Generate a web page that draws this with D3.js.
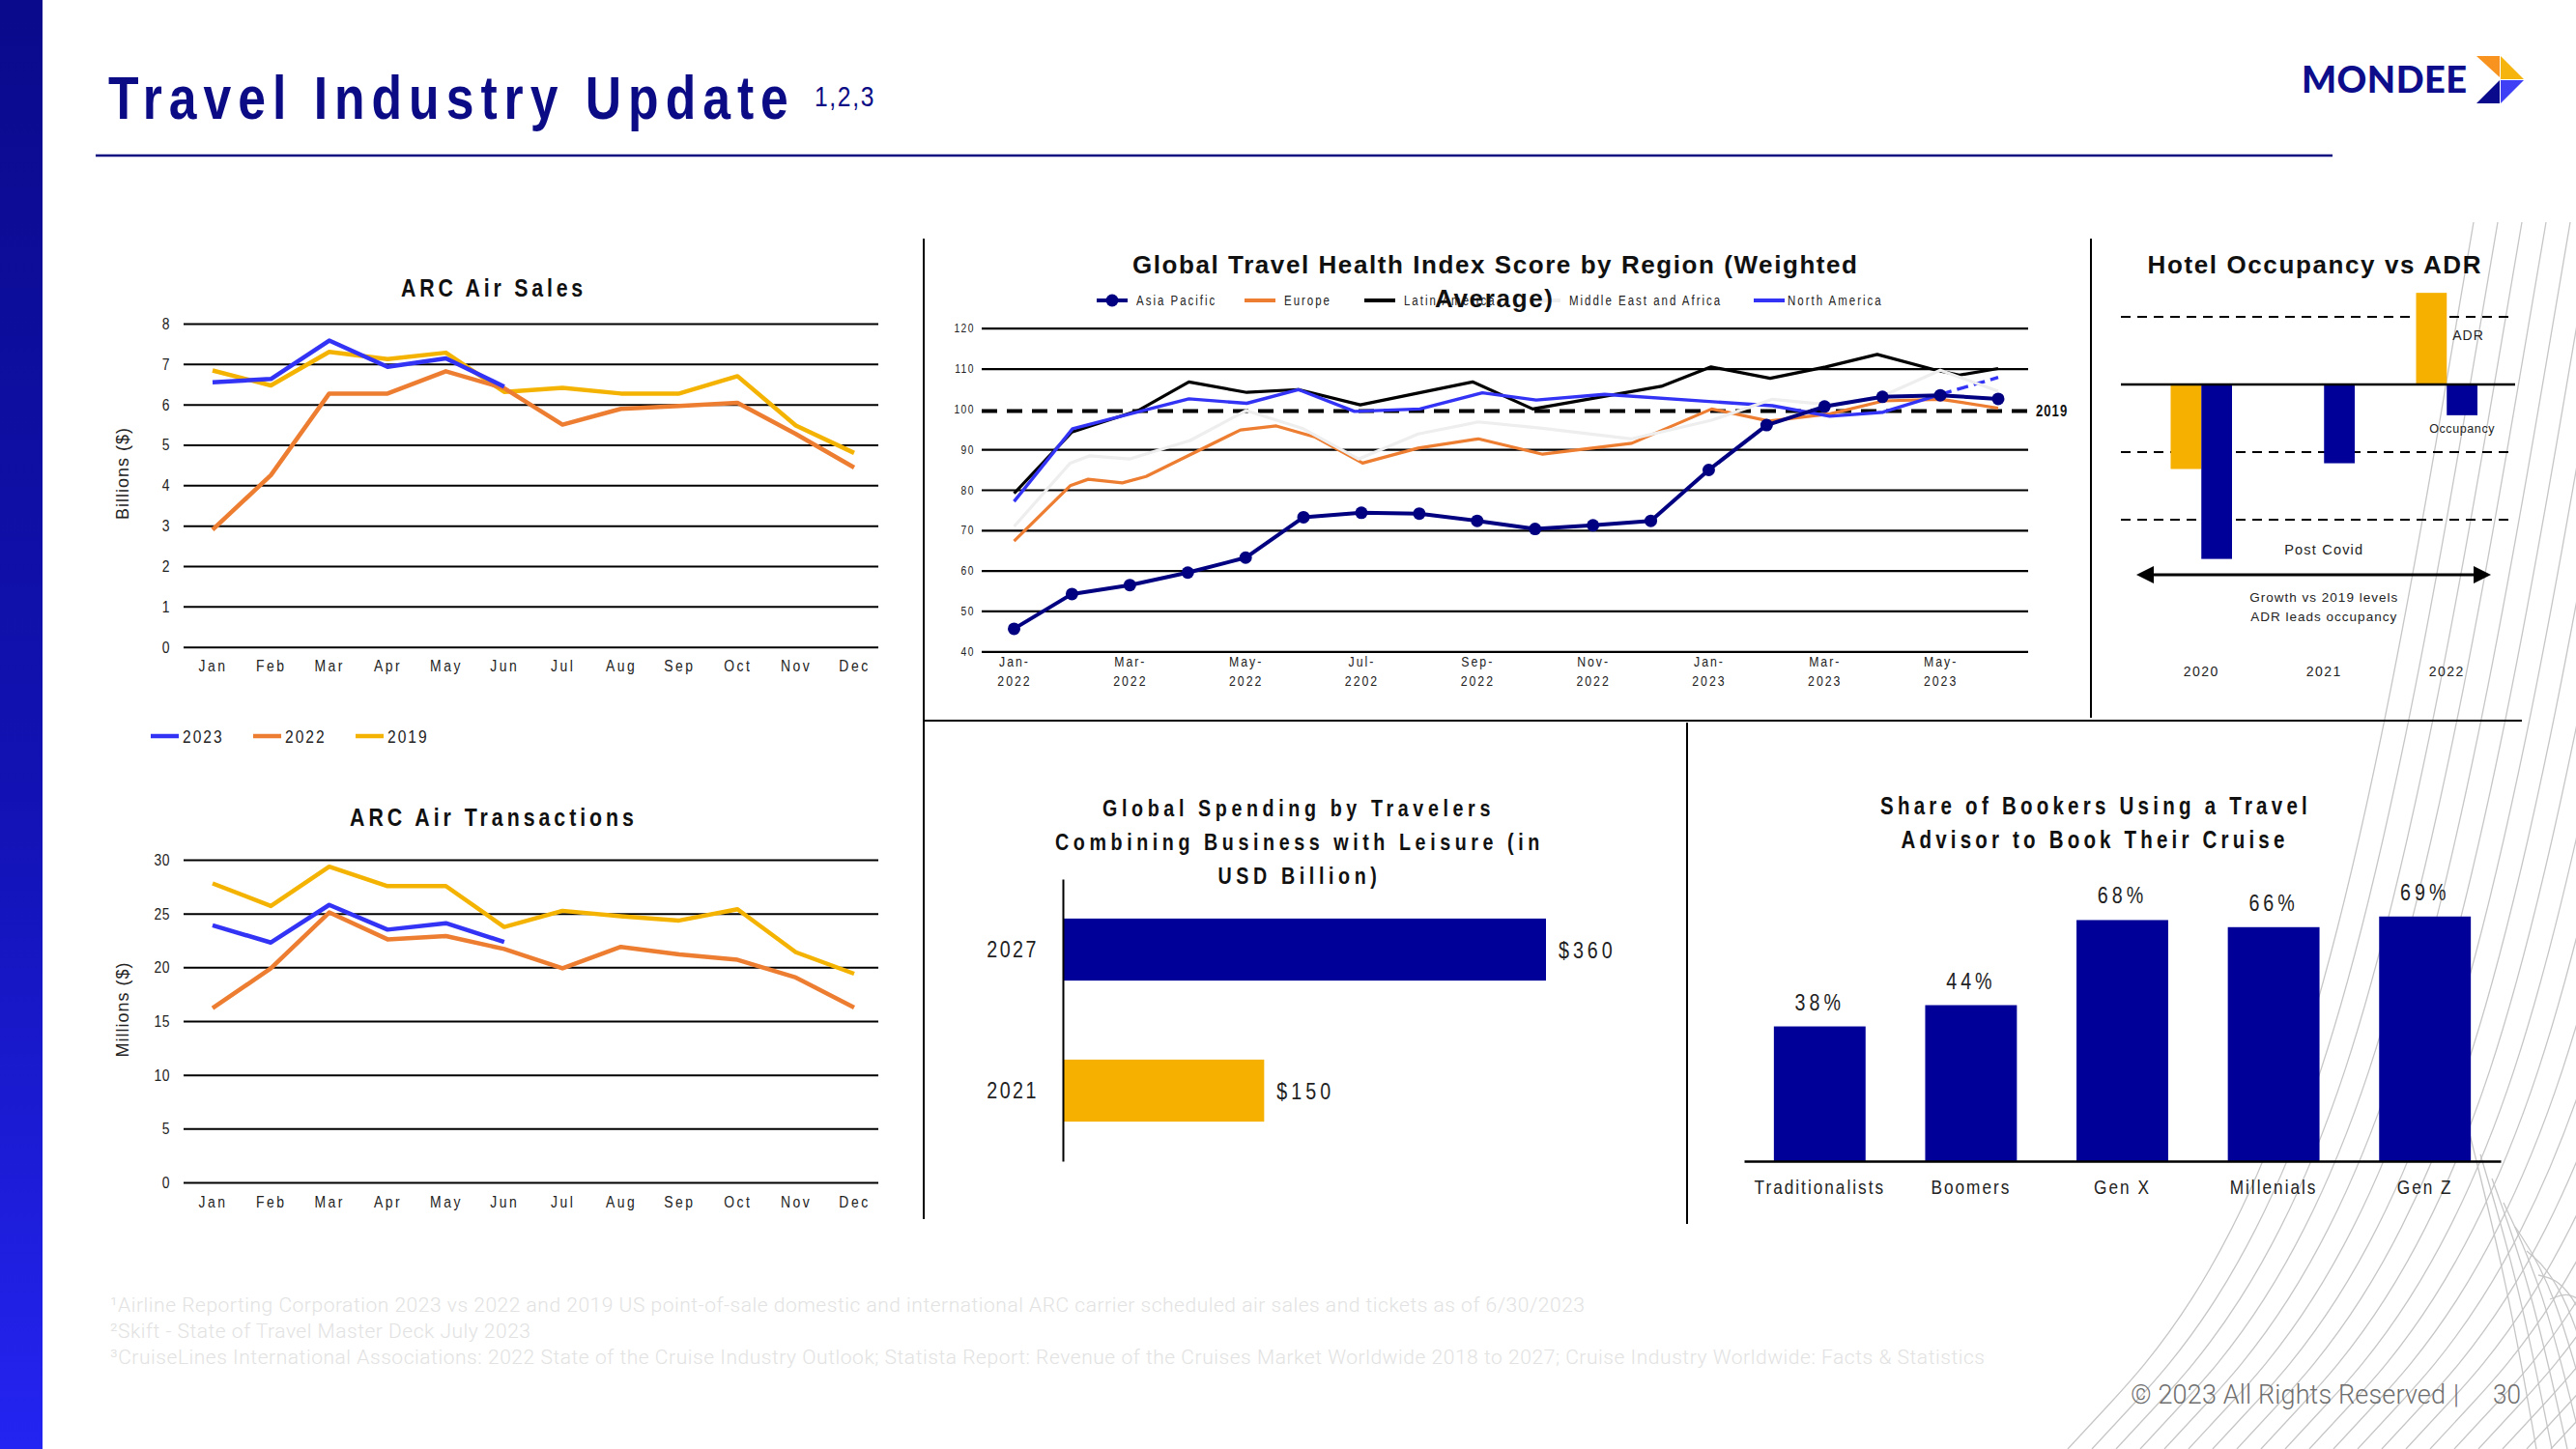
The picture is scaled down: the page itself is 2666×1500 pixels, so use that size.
<!DOCTYPE html>
<html>
<head>
<meta charset="utf-8">
<title>Travel Industry Update</title>
<script src="https://cdn.jsdelivr.net/npm/d3@7/dist/d3.min.js"></script>
<style>
  html, body { margin:0; padding:0; background:#ffffff; }
  svg { display:block; }
</style>
</head>
<body>
<svg id="slide" width="2666" height="1500"></svg>
<script>
// ================= DATA =================
const months = ["Jan","Feb","Mar","Apr","May","Jun","Jul","Aug","Sep","Oct","Nov","Dec"];
const arcYears = ["2023","2022","2019"];

const salesTicks = [0,1,2,3,4,5,6,7,8];
const sales2023 = [6.55,6.63,7.58,6.93,7.14,6.44];
const sales2022 = [2.9,4.25,6.27,6.27,6.82,6.4,5.5,5.89,5.96,6.04,5.27,4.44];
const sales2019 = [6.84,6.47,7.3,7.12,7.28,6.31,6.41,6.27,6.27,6.7,5.48,4.8];

const transTicks = [0,5,10,15,20,25,30];
const trans2023 = [23.9,22.3,25.8,23.5,24.1,22.35];
const trans2022 = [16.2,19.9,25.1,22.6,22.9,21.7,19.9,21.9,21.2,20.7,19.05,16.25];
const trans2019 = [27.8,25.7,29.35,27.55,27.55,23.75,25.25,24.75,24.35,25.4,21.4,19.4];

const gthiTicks = [40,50,60,70,80,90,100,110,120];
const gthiTickMonths = [0,2,4,6,8,10,12,14,16];
const gthiTickLabels = [["Jan-","2022"],["Mar-","2022"],["May-","2022"],["Jul-","2202"],["Sep-","2022"],["Nov-","2022"],["Jan-","2023"],["Mar-","2023"],["May-","2023"]];
const gthiRegions = ["Asia Pacific","Europe","Latin America","Middle East and Africa","North America"];
const asiaPacific = [45.6,54.2,56.4,59.5,63.2,73.2,74.3,74.1,72.3,70.3,71.2,72.3,84.9,96.0,100.6,103.0,103.4,102.5];
const europe = [[0,67.3],[0.97,81.0],[1.28,82.6],[1.87,81.7],[2.28,83.3],[3.91,94.8],[4.53,95.8],[5.19,93.1],[6.02,86.6],[6.98,90.3],[8.02,92.6],[9.13,88.8],[10.67,91.5],[12.05,100.0],[13.04,97.0],[14.1,98.8],[15.02,102.0],[16.01,102.4],[17,100.2]];
const latinAmerica = [[0,79.1],[1,94.3],[2.14,99.6],[3.02,106.7],[4.02,104.1],[4.91,104.8],[5.98,101.0],[7.92,106.7],[8.96,100.0],[11.18,105.6],[12.04,110.4],[13.06,107.6],[14.02,110.4],[14.91,113.5],[15.93,109.6],[16.33,108.4],[17,110.0]];
const middleEastAfrica = [[0,70.9],[0.97,86.6],[1.31,88.4],[1.99,87.6],[3.04,92.2],[4.01,99.6],[4.98,95.2],[5.95,87.6],[6.98,93.8],[8.02,96.8],[9.13,95.2],[10.67,92.6],[12.05,97.2],[13.1,102.4],[14.1,101.0],[15.0,103.2],[16.0,109.6],[17,104.4]];
const northAmerica = [[0,77.1],[1.01,95.1],[2.01,98.8],[3.02,102.5],[4.02,101.4],[4.91,104.8],[5.88,99.4],[7.01,100.0],[8.09,104.0],[9.02,102.2],[10.2,103.6],[13.1,100.8],[14.09,98.2],[15.01,99.2],[16.0,103.6],[17,107.8]];
const level2019 = 99.5;

const hotelYears = ["2020","2021","2022"];
const hotelMeasures = ["ADR","Occupancy"];
const hotelADR = [-25.0,0,27.1];
const hotelOcc = [-51.6,-23.3,-9.1];
const hotelRefLines = [20,-20,-40];

const spendYears = ["2027","2021"];
const spendValues = [360,150];

const cruiseGroups = ["Traditionalists","Boomers","Gen X","Millenials","Gen Z"];
const cruiseShare = [38,44,68,66,69];

const footnotes = [
  "\u00B9Airline Reporting Corporation 2023 vs 2022 and 2019 US point-of-sale domestic and international ARC carrier scheduled air sales and tickets as of 6/30/2023",
  "\u00B2Skift - State of Travel Master Deck July 2023",
  "\u00B3CruiseLines International Associations: 2022 State of the Cruise Industry Outlook; Statista Report: Revenue of the Cruises Market Worldwide 2018 to 2027; Cruise Industry Worldwide: Facts & Statistics"
];

// ================= STYLE =================
const SANS = "'Liberation Sans',Arial,Helvetica,sans-serif";
const ROBOTO = "Roboto,'Liberation Sans',sans-serif";
const NAVY = "#000099", YELLOW = "#f5b000", ORANGE = "#ed7d31", BLUE = "#3333f5", DARKNAVY = "#000080";
const TITLE_NAVY = "#0b0b85";

const svg = d3.select("#slide");

// detect a real narrow face; otherwise emulate it by horizontal compression
function probe(fam) {
  const t = svg.append("text").attr("font-family", fam).attr("font-size", 40).text("Travel Industry Update");
  const w = t.node().getComputedTextLength(); t.remove(); return w;
}
const hasNarrow = Math.abs(probe("'Liberation Sans Narrow',monospace") - probe("'Liberation Sans Narrow',serif")) < 0.5;
const NF = hasNarrow ? "'Liberation Sans Narrow',sans-serif" : SANS;
const NS = hasNarrow ? 1 : 0.82;

function narrowize(t, ls, target) {
  const n = Math.max(1, (t.text() || "").length);
  t.attr("font-family", NF);
  const x = +t.attr("x") || 0, y = +t.attr("y") || 0;
  let s;
  if (target) {
    t.attr("letter-spacing", 0);
    const W0 = t.node().getComputedTextLength();
    const pre = Math.max(0, (target / NS - W0) / n);
    t.attr("letter-spacing", pre);
    s = target / t.node().getComputedTextLength();
  } else {
    t.attr("letter-spacing", (ls || 0) / NS);
    s = NS;
  }
  if (Math.abs(s - 1) > 1e-3) t.attr("transform", `translate(${x},${y}) scale(${s},1) translate(${-x},${-y})`);
}
function fit(t, target) {
  const L = t.node().getComputedTextLength();
  t.attr("textLength", target).attr("lengthAdjust", L > target ? "spacingAndGlyphs" : "spacing");
}
function label(g, x, y, str, o = {}) {
  const t = g.append("text").attr("x", x).attr("y", y).text(str)
    .attr("font-family", o.f || NF).attr("font-size", o.s || 14)
    .attr("font-weight", o.w || 400).attr("fill", o.c || "#111")
    .attr("text-anchor", o.a || "start");
  if (!o.f) { narrowize(t, o.ls, o.tl); return t; }
  if (o.ls != null) t.attr("letter-spacing", o.ls);
  if (o.tl) fit(t, o.tl);
  return t;
}
function styleTicks(sel, size, ls) {
  sel.attr("font-size", size).attr("fill", "#222").each(function() { narrowize(d3.select(this), ls); });
}

// ================= BACKGROUND =================
const defs = svg.append("defs");
const grad = defs.append("linearGradient").attr("id","leftbar").attr("x1",0).attr("y1",0).attr("x2",0).attr("y2",1);
grad.append("stop").attr("offset","0%").attr("stop-color","#0a0a8c");
grad.append("stop").attr("offset","55%").attr("stop-color","#1212b4");
grad.append("stop").attr("offset","100%").attr("stop-color","#2424f2");
svg.append("rect").attr("x",0).attr("y",0).attr("width",44).attr("height",1500).attr("fill","url(#leftbar)");

// decorative line swoosh (bottom right)
const deco = svg.append("g").attr("fill","none").attr("stroke","#c6c6c6").attr("stroke-width",1.3);
const basis = d3.line().curve(d3.curveBasis);
for (let i = 0; i < 22; i++) {
  const xb = 2140 + i * 25;
  deco.append("path").attr("d", basis([[xb,1500],[xb+250,1230],[xb+420,230]]));
}
for (let i = 0; i < 8; i++) {
  const xs = 2555 + i * 12;
  deco.append("path").attr("d", basis([[xs,1170 + i*25],[xs+40,1330],[xs+70 + i*4,1500]]));
}

// ================= HEADER =================
label(svg, 112, 123, "Travel Industry Update", {s:63, w:700, c:TITLE_NAVY, tl:711});
label(svg, 843, 110, "1,2,3", {s:30, c:TITLE_NAVY, tl:63});
svg.append("line").attr("x1",99).attr("x2",2414).attr("y1",161).attr("y2",161).attr("stroke","#0a0a80").attr("stroke-width",2.5);

// logo
label(svg, 2382, 96, "MONDEE", {f:"Lato,'Open Sans',sans-serif", s:38, w:900, c:"#0d0d8c", tl:171});
const logo = svg.append("g");
logo.append("polygon").attr("points","2563,58 2587,58 2587,80").attr("fill","#f7931e");
logo.append("polygon").attr("points","2588,58 2588,82 2612,82").attr("fill","#f6b40e");
logo.append("polygon").attr("points","2563,107 2587,83 2587,107").attr("fill","#0a0a8c");
logo.append("polygon").attr("points","2588,83 2612,83 2588,107").attr("fill","#3f3ff5");

// separators
const sep = svg.append("g").attr("stroke","#000").attr("stroke-width",2);
sep.append("line").attr("x1",956).attr("x2",956).attr("y1",247).attr("y2",1262);
sep.append("line").attr("x1",2164).attr("x2",2164).attr("y1",247).attr("y2",743);
sep.append("line").attr("x1",956).attr("x2",2610).attr("y1",746).attr("y2",746);
sep.append("line").attr("x1",1746).attr("x2",1746).attr("y1",748).attr("y2",1267);

// ================= ARC CHARTS =================
const arcColors = [BLUE, ORANGE, "#f5b301"];
function arcChart(o) {
  const g = svg.append("g");
  const x = d3.scalePoint().domain(months).range([220, 884]);
  const y = d3.scaleLinear().domain([0, d3.max(o.ticks)]).range([o.yBottom, o.yTop]);
  const ya = g.append("g").attr("transform","translate(190,0)")
    .call(d3.axisLeft(y).tickValues(o.ticks).tickSize(-719).tickPadding(14).tickFormat(d3.format("d")));
  ya.select(".domain").remove();
  ya.selectAll(".tick line").attr("stroke","#000").attr("stroke-width",2);
  styleTicks(ya.selectAll(".tick text"), 17, 0.5);
  const xa = g.append("g").attr("transform",`translate(0,${o.yBottom})`)
    .call(d3.axisBottom(x).tickSize(0).tickPadding(o.xPad));
  xa.select(".domain").remove();
  styleTicks(xa.selectAll(".tick text"), 17, 2.5);
  const line = d3.line().x((d,i) => x(months[i])).y(d => y(d));
  [2,1,0].forEach(k => {
    g.append("path").datum(o.series[k]).attr("d", line).attr("fill","none")
      .attr("stroke", arcColors[k]).attr("stroke-width",4.5).attr("stroke-linejoin","round");
  });
  label(g, 511, o.titleY, o.title, {s:26, w:700, a:"middle", tl:o.titleW});
  g.append("text").attr("transform",`translate(133,${o.labelY}) rotate(-90)`)
    .attr("text-anchor","middle").attr("font-family",SANS).attr("font-size",18)
    .attr("letter-spacing",1).attr("fill","#222").text(o.yLabel);
}
arcChart({ticks:salesTicks, yBottom:669.7, yTop:335, xPad:13, series:[sales2023,sales2022,sales2019],
  title:"ARC Air Sales", titleY:307, titleW:192, yLabel:"Billions  ($)", labelY:490});
arcChart({ticks:transTicks, yBottom:1224, yTop:890, xPad:14, series:[trans2023,trans2022,trans2019],
  title:"ARC Air Transactions", titleY:855, titleW:298, yLabel:"Millions  ($)", labelY:1045});

// ARC legend
const arcLeg = svg.append("g");
const legX = [156, 262, 368];
arcYears.forEach((yr, i) => {
  arcLeg.append("line").attr("x1",legX[i]).attr("x2",legX[i]+29).attr("y1",762).attr("y2",762)
    .attr("stroke",arcColors[i]).attr("stroke-width",4.5);
  label(arcLeg, legX[i]+33, 769, yr, {s:19, c:"#222", ls:2});
});

// ================= GLOBAL TRAVEL HEALTH INDEX =================
const gx = d3.scaleLinear().domain([0,17]).range([1049.5, 2068]);
const gy = d3.scaleLinear().domain([40,120]).range([674.3, 339.7]);
const gthi = svg.append("g");
const gya = gthi.append("g").attr("transform","translate(1016,0)")
  .call(d3.axisLeft(gy).tickValues(gthiTicks).tickSize(-1083).tickPadding(7));
gya.select(".domain").remove();
gya.selectAll(".tick line").attr("stroke","#000").attr("stroke-width",2.2);
gya.selectAll(".tick line").filter(d => d === 100).remove();
styleTicks(gya.selectAll(".tick text"), 12.5, 1.5);
const gxa = gthi.append("g").attr("transform","translate(0,674.3)")
  .call(d3.axisBottom(gx).tickValues(gthiTickMonths).tickSize(0).tickPadding(5)
    .tickFormat((d,i) => gthiTickLabels[i][0]));
gxa.select(".domain").remove();
gxa.selectAll(".tick").each(function(d,i) {
  d3.select(this).append("text").attr("y",25).attr("dy","0.71em").attr("text-anchor","middle").text(gthiTickLabels[i][1]);
});
styleTicks(gxa.selectAll(".tick text"), 15, 2);
// 2019 level
gthi.append("line").attr("x1",1016).attr("x2",2101).attr("y1",gy(level2019)).attr("y2",gy(level2019))
  .attr("stroke","#000").attr("stroke-width",4).attr("stroke-dasharray","16,10");
label(gthi, 2107, gy(level2019)+6, "2019", {s:16, w:700, ls:1});

const gline = d3.line().x(d => gx(d[0])).y(d => gy(d[1])).curve(d3.curveLinear);
gthi.append("path").datum(europe).attr("d",gline).attr("fill","none").attr("stroke",ORANGE).attr("stroke-width",3.2).attr("stroke-linejoin","round");
gthi.append("path").datum(latinAmerica).attr("d",gline).attr("fill","none").attr("stroke","#000").attr("stroke-width",3.2).attr("stroke-linejoin","round");
gthi.append("path").datum(northAmerica.slice(0,-1)).attr("d",gline).attr("fill","none").attr("stroke",BLUE).attr("stroke-width",3.4).attr("stroke-linejoin","round");
gthi.append("path").datum(northAmerica.slice(-2)).attr("d",gline).attr("fill","none").attr("stroke",BLUE).attr("stroke-width",3.4).attr("stroke-dasharray","12,6");
gthi.append("path").datum(middleEastAfrica).attr("d",gline).attr("fill","none").attr("stroke","#eeeeee").attr("stroke-width",3.2).attr("stroke-linejoin","round");
const apPts = asiaPacific.map((v,i) => [i, v]);
gthi.append("path").datum(apPts).attr("d",gline).attr("fill","none").attr("stroke",DARKNAVY).attr("stroke-width",4).attr("stroke-linejoin","round");
gthi.selectAll(".ap").data(apPts).join("circle").attr("cx",d => gx(d[0])).attr("cy",d => gy(d[1])).attr("r",6.5).attr("fill",DARKNAVY);

// legend
const gleg = svg.append("g");
const gLegColors = [DARKNAVY, ORANGE, "#000", "#eeeeee", BLUE];
const gLegX = [1135, 1288, 1412, 1583, 1815];
gthiRegions.forEach((r, i) => {
  gleg.append("line").attr("x1",gLegX[i]).attr("x2",gLegX[i]+32).attr("y1",311).attr("y2",311)
    .attr("stroke",gLegColors[i]).attr("stroke-width",4);
  if (i === 0) gleg.append("circle").attr("cx",gLegX[i]+16).attr("cy",311).attr("r",6.5).attr("fill",DARKNAVY);
  label(gleg, gLegX[i] + (i === 4 ? 35 : 41), 316, r, {s:14, c:"#222", ls:2});
});
label(svg, 1547, 283, "Global Travel Health Index Score by Region (Weighted", {f:SANS, s:26, w:700, a:"middle", tl:750});
label(svg, 1546, 318, "Average)", {f:SANS, s:26, w:700, a:"middle", tl:122});

// ================= HOTEL OCCUPANCY VS ADR =================
const hx0 = d3.scaleBand().domain(hotelYears).range([2214.75, 2595.75]).paddingInner(0.5).paddingOuter(0.25);
const hx1 = d3.scaleBand().domain(hotelMeasures).range([0, hx0.bandwidth()]);
const hy = d3.scaleLinear().domain([-40,20]).range([538,328]);
const hotel = svg.append("g");
hotel.selectAll(".ref").data(hotelRefLines).join("line")
  .attr("x1",2195).attr("x2",2597).attr("y1",d => hy(d)).attr("y2",d => hy(d))
  .attr("stroke","#000").attr("stroke-width",2).attr("stroke-dasharray","10,7");
const hotelRows = hotelYears.flatMap((yr,i) => [
  {yr, m:"ADR", v:hotelADR[i], c:YELLOW},
  {yr, m:"Occupancy", v:hotelOcc[i], c:NAVY}
]);
hotel.selectAll(".hb").data(hotelRows).join("rect")
  .attr("x", d => hx0(d.yr) + hx1(d.m)).attr("width", hx1.bandwidth())
  .attr("y", d => Math.min(hy(d.v), hy(0))).attr("height", d => Math.abs(hy(d.v) - hy(0)))
  .attr("fill", d => d.c);
hotel.append("line").attr("x1",2195).attr("x2",2603).attr("y1",hy(0)).attr("y2",hy(0)).attr("stroke","#000").attr("stroke-width",2.5);
label(hotel, 2395, 283, "Hotel Occupancy vs ADR", {f:SANS, s:26, w:700, a:"middle", tl:345});
const occX = hx0("2022") + hx1("Occupancy");
label(hotel, occX + 6, 352, "ADR", {f:SANS, s:14, c:"#222", ls:1});
label(hotel, occX + hx1.bandwidth()/2, hy(hotelOcc[2]) + 18, "Occupancy", {f:SANS, s:12.5, c:"#222", a:"middle", ls:0.6});
const midX = hx0("2021") + hx0.bandwidth()/2;
label(hotel, midX, 574, "Post Covid", {f:SANS, s:14.5, c:"#222", a:"middle", ls:1.2});
hotel.append("line").attr("x1",2226).attr("x2",2563).attr("y1",595).attr("y2",595).attr("stroke","#000").attr("stroke-width",3);
hotel.append("polygon").attr("points","2211,595 2229,586 2229,604").attr("fill","#000");
hotel.append("polygon").attr("points","2578,595 2560,586 2560,604").attr("fill","#000");
label(hotel, midX, 623, "Growth vs 2019 levels", {f:SANS, s:13.5, c:"#222", a:"middle", ls:1});
label(hotel, midX, 643, "ADR leads occupancy", {f:SANS, s:13.5, c:"#222", a:"middle", ls:1});
hotelYears.forEach(yr => label(hotel, hx0(yr) + hx0.bandwidth()/2, 700, yr, {f:SANS, s:14, c:"#222", a:"middle", ls:1.5}));

// ================= GLOBAL SPENDING =================
const sx = d3.scaleLinear().domain([0,360]).range([1100,1600]);
const sy = d3.scaleBand().domain(spendYears).range([910,1202]).paddingInner(0.56).paddingOuter(0.28);
const spend = svg.append("g");
const spendColors = [NAVY, YELLOW];
spend.selectAll(".sb").data(spendValues).join("rect")
  .attr("x", sx(0)).attr("y", (d,i) => sy(spendYears[i])).attr("width", d => sx(d) - sx(0)).attr("height", sy.bandwidth())
  .attr("fill", (d,i) => spendColors[i]);
const sya = spend.append("g").attr("transform",`translate(${sx(0)},0)`)
  .call(d3.axisLeft(sy).tickSize(0).tickSizeOuter(0).tickPadding(25));
sya.select(".domain").attr("stroke","#000").attr("stroke-width",2);
styleTicks(sya.selectAll(".tick text"), 24, 2.5);
spendValues.forEach((v,i) => label(spend, sx(v) + 13, sy(spendYears[i]) + sy.bandwidth()/2 + 9, "$" + v, {s:24, c:"#222", ls:4}));
label(spend, 1344, 845, "Global Spending by Travelers", {s:24, w:700, a:"middle", tl:406});
label(spend, 1345, 880, "Combining Business with Leisure (in", {s:24, w:700, a:"middle", tl:506});
label(spend, 1345, 915, "USD Billion)", {s:24, w:700, a:"middle", tl:169});

// ================= SHARE OF BOOKERS =================
const cx = d3.scaleBand().domain(cruiseGroups).range([1805,2588]).paddingInner(0.394).paddingOuter(0.197);
const cy = d3.scaleLinear().domain([0,100]).range([1202,835]);
const share = svg.append("g");
share.selectAll(".cb").data(cruiseShare).join("rect")
  .attr("x", (d,i) => cx(cruiseGroups[i])).attr("width", cx.bandwidth())
  .attr("y", d => cy(d)).attr("height", d => cy(0) - cy(d)).attr("fill", NAVY);
const cxa = share.append("g").attr("transform",`translate(0,${cy(0)})`)
  .call(d3.axisBottom(cx).tickSize(0).tickSizeOuter(0).tickPadding(19));
cxa.select(".domain").attr("stroke","#000").attr("stroke-width",2.5);
styleTicks(cxa.selectAll(".tick text"), 21, 2);
cruiseShare.forEach((v,i) => label(share, cx(cruiseGroups[i]) + cx.bandwidth()/2, cy(v) - 17, v + "%", {s:24, c:"#222", a:"middle", ls:4}));
label(share, 2169, 843, "Share of Bookers Using a Travel", {s:25, w:700, a:"middle", tl:446});
label(share, 2168, 878, "Advisor to Book Their Cruise", {s:25, w:700, a:"middle", tl:401});

// ================= FOOTER =================
const fnW = [1526, 435, 1940];
footnotes.forEach((f,i) => label(svg, 114, 1358 + i*27, f, {f:ROBOTO, s:21, w:300, c:"#e2e2e2", tl:fnW[i]}));
label(svg, 2205, 1453, "\u00A9 2023 All Rights Reserved", {f:ROBOTO, s:27, w:300, c:"#6e6e6e", tl:326});
label(svg, 2542, 1453, "|", {f:ROBOTO, s:27, w:300, c:"#6e6e6e", a:"middle"});
label(svg, 2580, 1453, "30", {f:ROBOTO, s:27, w:300, c:"#6e6e6e", tl:29});
</script>
</body>
</html>
